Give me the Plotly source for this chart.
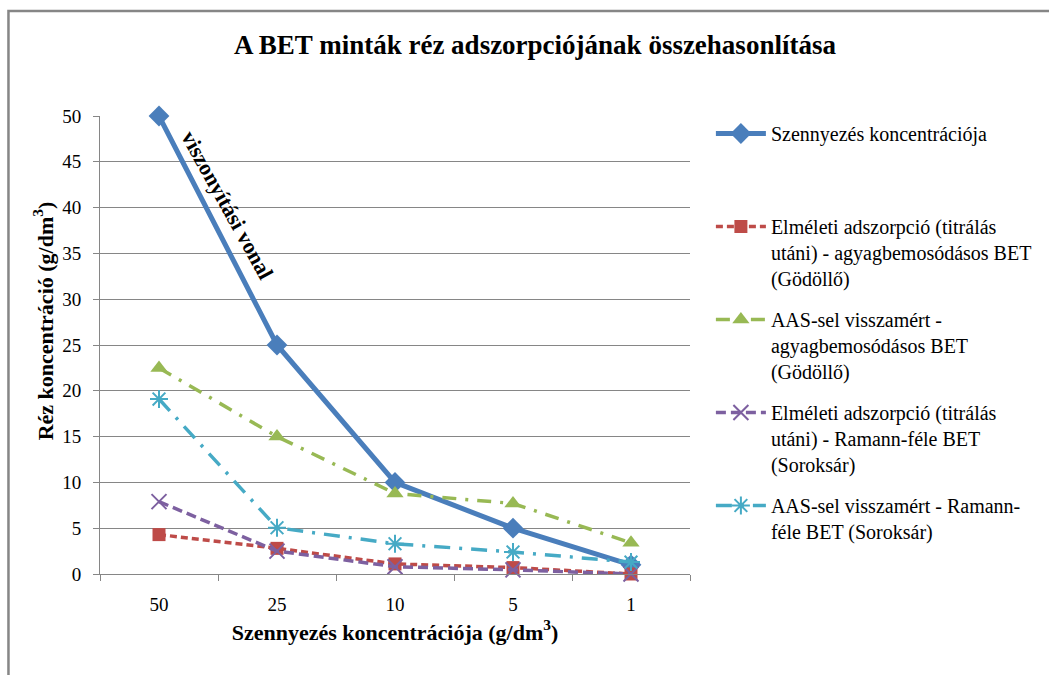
import plotly.graph_objects as go

categories = ["50", "25", "10", "5", "1"]
szennyezes = [50, 25, 10, 5, 1]
elm_godollo = [4.3, 2.8, 1.1, 0.7, 0.0]
aas_godollo = [22.5, 15.0, 8.8, 7.7, 3.4]
elm_soroksar = [7.9, 2.5, 0.8, 0.45, 0.0]
aas_soroksar = [19.1, 5.05, 3.3, 2.4, 1.3]

names = [
    "Szennyezés koncentrációja<br> <br> ",
    "Elméleti adszorpció (titrálás<br>utáni) - agyagbemosódásos BET<br>(Gödöllő)",
    "AAS-sel visszamért -<br>agyagbemosódásos BET<br>(Gödöllő)",
    "Elméleti adszorpció (titrálás<br>utáni) - Ramann-féle BET<br>(Soroksár)",
    "AAS-sel visszamért - Ramann-<br>féle BET (Soroksár)",
]

FONT = "Liberation Serif, Times New Roman, serif"
GRAY = "#868686"

fig = go.Figure()
fig.add_trace(go.Scatter(
    x=categories, y=szennyezes, name=names[0], legendgroup="a",
    mode="lines+markers", cliponaxis=False,
    line=dict(color="#4A7EBB", width=5),
    marker=dict(symbol="diamond", size=16, color="#4A7EBB"),
))
fig.add_trace(go.Scatter(
    x=categories, y=elm_godollo, name=names[1], legendgroup="b",
    mode="lines+markers", cliponaxis=False,
    line=dict(color="#BE4B48", width=3.5, dash="7px,4px"),
    marker=dict(symbol="square", size=13, color="#BE4B48"),
))
fig.add_trace(go.Scatter(
    x=categories, y=aas_godollo, name=names[2], legendgroup="c",
    mode="lines+markers", cliponaxis=False,
    line=dict(color="#98B954", width=3.5, dash="14px,9px,3px,9px"),
    marker=dict(symbol="triangle-up", size=15, color="#98B954"),
))
fig.add_trace(go.Scatter(
    x=categories, y=elm_soroksar, name=names[3], legendgroup="d",
    mode="lines+markers", cliponaxis=False,
    line=dict(color="#7D60A0", width=3.5, dash="10px,5px"),
    marker=dict(symbol="x-thin-open", size=15, color="#7D60A0",
                line=dict(width=2, color="#7D60A0")),
))
fig.add_trace(go.Scatter(
    x=categories, y=aas_soroksar, name=names[4], legendgroup="e",
    mode="lines+markers", cliponaxis=False,
    line=dict(color="#46AAC5", width=3.5, dash="16px,9px,3px,9px"),
    marker=dict(symbol="asterisk-open", size=15, color="#46AAC5",
                line=dict(width=2, color="#46AAC5")),
))

fig.add_annotation(
    x=0.58, y=40.2, xref="x", yref="y",
    text="<b>viszonyítási vonal</b>", showarrow=False, textangle=61,
    font=dict(family=FONT, size=22, color="black"),
)
fig.add_annotation(
    x=(27 - 100) / 593, y=(574 - 321) / 458, xref="paper", yref="paper",
    text="<b>Réz koncentráció (g/dm<sup>3</sup>)</b>", showarrow=False,
    textangle=-90, font=dict(family=FONT, size=22, color="black"),
)

fig.add_shape(
    type="rect", xref="paper", yref="paper",
    x0=(8 - 100) / 593, x1=(1060 - 100) / 593,
    y0=(574 - 690) / 458, y1=(574 - 11) / 458,
    line=dict(color=GRAY, width=2.5), fillcolor="rgba(0,0,0,0)", layer="below",
)

fig.update_layout(
    width=1049, height=675,
    margin=dict(l=100, r=356, t=116, b=101),
    paper_bgcolor="white", plot_bgcolor="white",
    font=dict(family=FONT, color="black"),
    title=dict(
        text="<b>A BET minták réz adszorpciójának összehasonlítása</b>",
        x=(535) / 1049, xanchor="center", y=1 - 45 / 675, yanchor="middle",
        font=dict(family=FONT, size=27, color="black"),
    ),
    showlegend=True,
    legend=dict(
        x=(714 - 100) / 593, xanchor="left", y=(574 - 114) / 458, yanchor="top",
        font=dict(family=FONT, size=20, color="black"),
        valign="top", tracegroupgap=12, bgcolor="rgba(0,0,0,0)",
        itemwidth=50, maxheight=620,
    ),
    xaxis=dict(
        type="category", range=[-0.5, 4.5],
        showgrid=False, showline=True, linecolor=GRAY, linewidth=1,
        ticks="outside", tickson="boundaries", ticklen=6, tickcolor=GRAY,
        tickfont=dict(family=FONT, size=19, color="black"),
        ticklabelstandoff=13, automargin=False,
        title=dict(text="<b>Szennyezés koncentrációja (g/dm<sup>3</sup>)</b>",
                   font=dict(family=FONT, size=22, color="black"), standoff=10),
    ),
    yaxis=dict(
        range=[0, 50], dtick=5, tick0=0,
        showgrid=True, gridcolor=GRAY, gridwidth=1,
        showline=True, linecolor=GRAY, linewidth=1,
        ticks="outside", ticklen=6, tickcolor=GRAY,
        tickfont=dict(family=FONT, size=19, color="black"),
        ticklabelstandoff=8, automargin=False, zeroline=False,
    ),
)

fig.write_html("out.html")
